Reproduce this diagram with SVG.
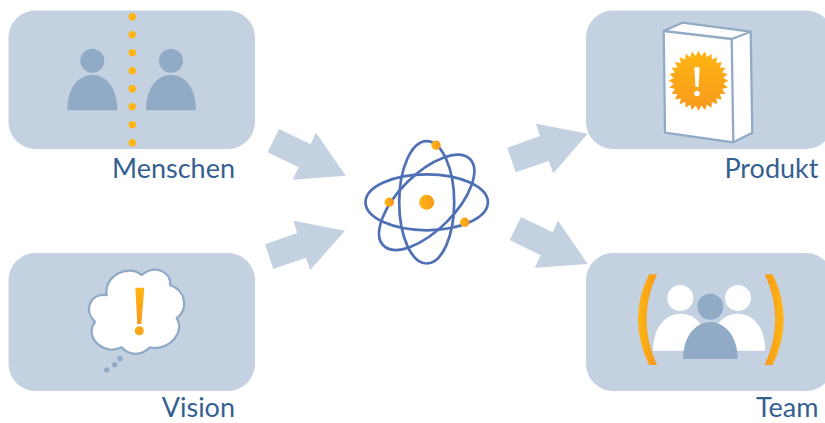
<svg xmlns="http://www.w3.org/2000/svg" width="825" height="423" viewBox="0 0 825 423">
<style>
.box{fill:#c4d1e1}
.arrow{fill:#c4d1e1}
.slate{fill:#91abc7}
.white{fill:#fff}
.dot{fill:#ffb612}
.orb{fill:none;stroke:#4f70b5;stroke-width:2.7}
.line{fill:#fff;stroke:#91abc7;stroke-width:2.3;stroke-linejoin:round}
.label{font-family:"Lato","Liberation Sans",sans-serif;font-size:27px;fill:#365f91;text-anchor:end}
</style>
<defs>
<linearGradient id="gh" x1="0" y1="0" x2="1" y2="0"><stop offset="0" stop-color="#ffb612"/><stop offset="1" stop-color="#f7981d"/></linearGradient>
<linearGradient id="gr" x1="1" y1="0" x2="0" y2="0"><stop offset="0" stop-color="#ffb612"/><stop offset="1" stop-color="#f7981d"/></linearGradient>
<linearGradient id="gv" x1="0" y1="0" x2="0" y2="1"><stop offset="0" stop-color="#ffb612"/><stop offset="1" stop-color="#f7981d"/></linearGradient>
</defs>
<g id="connectors">
<polygon class="arrow" points="267.7,152.3 279,129 310.7,144.3 316,132.7 345.7,175.7 292.7,179.7 298.7,167.3"/>
<polygon class="arrow" points="265,244.3 297.3,233 293.3,220.7 345,230.7 310.3,270 306,257.7 273.3,269"/>
<polygon class="arrow" points="507.3,147.7 540,136 536,123.7 587.7,133.7 553.3,173.3 548.7,161 515.7,172.3"/>
<polygon class="arrow" points="509.7,240 521,217 552.7,232.3 558,220.7 587.7,264 534.7,267.7 540.7,255.3"/>
</g>
<g id="menschen">
<rect class="box" x="8.5" y="10.5" width="246.5" height="138.5" rx="27"/>
<circle class="slate" cx="92.3" cy="60.7" r="12"/>
<path class="slate" d="M67.3 110.3C67.3 88 78 75 92.3 75S117.3 88 117.3 110.3Z"/>
<circle class="slate" cx="171" cy="60.7" r="12"/>
<path class="slate" d="M146 110.3C146 88 156.700 75 171 75S196 88 196 110.3Z"/>
<circle class="dot" cx="132.300" cy="16.700" r="3.700"/>
<circle class="dot" cx="132.300" cy="34.700" r="3.700"/>
<circle class="dot" cx="132.300" cy="52.700" r="3.700"/>
<circle class="dot" cx="132.300" cy="70.700" r="3.700"/>
<circle class="dot" cx="132.300" cy="88.700" r="3.700"/>
<circle class="dot" cx="132.300" cy="106.700" r="3.700"/>
<circle class="dot" cx="132.300" cy="124.700" r="3.700"/>
<circle class="dot" cx="132.300" cy="142.700" r="3.700"/>
<text class="label" x="235" y="177.500">Menschen</text>
</g>
<g id="vision">
<rect class="box" x="8.5" y="253" width="246.5" height="138" rx="27"/>
<path class="line" d="M106.700 295C103 277 128 263 141.700 275C155 264 172 272 170 285C187 291 188 310 176.700 318.300C186 332 168 352 150 347.300C140 357 128 355 121.700 347.300C105 356 83 338 95 321.700C83 310 90 293 106.700 295Z"/>
<path d="M135.300 287.700H144.300L141.300 324H137.300Z" fill="url(#gv)"/>
<circle cx="139.300" cy="330.700" r="4.500" fill="#fba518"/>
<circle class="slate" cx="106.700" cy="370" r="2.700"/>
<circle class="slate" cx="114.700" cy="364.700" r="2.700"/>
<circle class="slate" cx="120" cy="358.700" r="2.700"/>
<text class="label" x="235" y="417">Vision</text>
</g>
<g id="atom">
<ellipse class="orb" cx="426.700" cy="202.300" rx="61.200" ry="28"/>
<ellipse class="orb" cx="426.700" cy="202.300" rx="27.500" ry="61.200"/>
<ellipse class="orb" cx="426.700" cy="202.300" rx="61.200" ry="28" transform="rotate(-45 426.700 202.300)"/>
<circle cx="426.700" cy="202.300" r="7.500" fill="url(#gh)"/>
<circle cx="436" cy="145.300" r="4.700" fill="url(#gh)"/>
<circle cx="389.300" cy="202.300" r="4.700" fill="url(#gh)"/>
<circle cx="464.700" cy="222.300" r="4.700" fill="url(#gh)"/>
</g>
<g id="produkt">
<rect class="box" x="586" y="10.500" width="247" height="138.500" rx="27"/>
<polygon class="line" points="663.700,31 682.300,22.700 750.700,31.700 752.300,132.700 733.300,142.300 665,132.700"/>
<polyline class="line" points="663.700,31 731.700,39 733.300,142.300"/>
<polyline class="line" points="731.700,39 750.700,31.700"/>
<polygon transform="translate(698.500 80.800)" fill="url(#gv)" points="30,0 24.800,2.800 29.200,6.700 23.600,8.300 27,13 21.200,13.300 23.500,18.700 17.700,17.700 18.700,23.500 13.300,21.200 13,27 8.300,23.600 6.700,29.200 2.800,24.800 0,30 -2.800,24.800 -6.700,29.200 -8.300,23.600 -13,27 -13.300,21.200 -18.700,23.500 -17.700,17.700 -23.500,18.700 -21.200,13.300 -27,13 -23.600,8.300 -29.200,6.700 -24.800,2.800 -30,0 -24.800,-2.800 -29.200,-6.700 -23.600,-8.300 -27,-13 -21.200,-13.300 -23.500,-18.700 -17.700,-17.700 -18.700,-23.500 -13.300,-21.200 -13,-27 -8.300,-23.600 -6.700,-29.200 -2.800,-24.800 0,-30 2.800,-24.800 6.700,-29.200 8.300,-23.600 13,-27 13.300,-21.200 18.700,-23.500 17.700,-17.700 23.500,-18.700 21.200,-13.300 27,-13 23.600,-8.300 29.200,-6.700 24.800,-2.800"/>
<path class="white" d="M694.300 67.300H699.700L698.500 87H695.500Z"/>
<circle class="white" cx="697" cy="93.500" r="2.800"/>
<text class="label" x="818.500" y="178">Produkt</text>
</g>
<g id="team">
<rect class="box" x="586" y="253" width="247" height="138" rx="27"/>
<path d="M649 274.300H657Q636 319.300 657 365H649Q627 319.300 649 274.300Z" fill="url(#gh)"/>
<path d="M772.700 274.300H764.700Q785.700 319.300 764.700 365H772.700Q794.700 319.300 772.700 274.300Z" fill="url(#gr)"/>
<circle class="white" cx="680.300" cy="298" r="13"/>
<circle class="white" cx="738" cy="298" r="13"/>
<path class="white" d="M653 350.700C653 328 665 313.700 680.700 313.700S708.500 328 708.500 350.700Z"/>
<path class="white" d="M710 350.700C710 328 722 313.700 737.700 313.700S765.300 328 765.300 350.700Z"/>
<circle class="slate" cx="710.300" cy="306.700" r="13"/>
<path class="slate" d="M683 359C683 337 695 322 710.300 322S737.700 337 737.700 359Z"/>
<text class="label" x="818.500" y="417">Team</text>
</g>
</svg>
